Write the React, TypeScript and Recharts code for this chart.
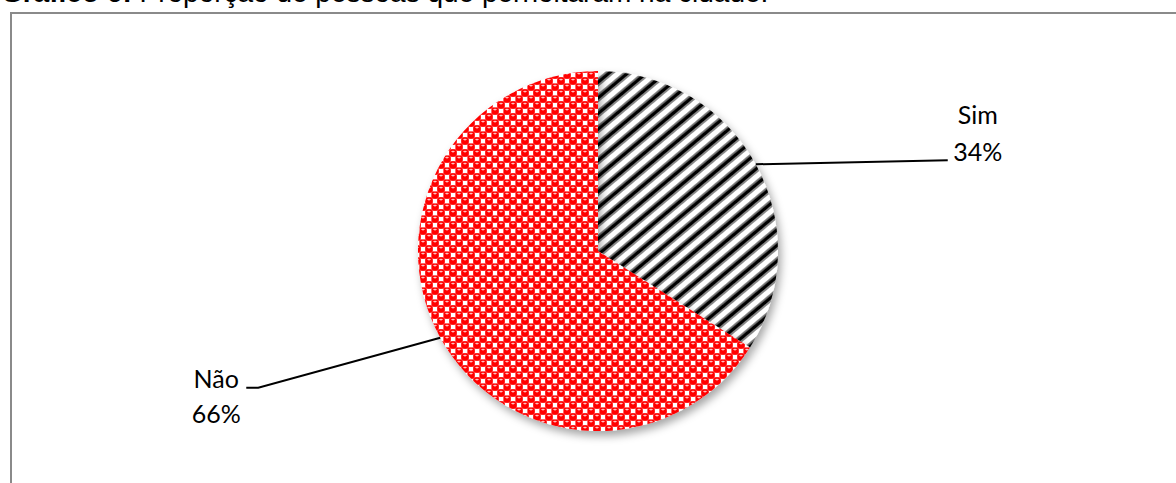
import React from 'react';
import { PieChart, Pie, Cell } from 'recharts';

// Share of people who stayed overnight in the city
const categories = ['Sim', 'Não'];
const percentages = [34, 66];
const patternFills = ['url(#stripes)', 'url(#redDots)'];

const title = 'Gráfico 6:';
const subtitle = ' Proporção de pessoas que pernoitaram na cidade.';

const data = categories.map((name, i) => ({ name, value: percentages[i] }));

const RADIAN = Math.PI / 180;
const labelFont = "Lato, 'Open Sans', sans-serif";

const renderLabel = (props: any) => {
    const { cx, cy, midAngle, outerRadius, name, value } = props;
    const sx = cx + outerRadius * Math.cos(-midAngle * RADIAN);
    const sy = cy + outerRadius * Math.sin(-midAngle * RADIAN);
    const right = Math.cos(-midAngle * RADIAN) >= 0;

    if (right) {
        const ex = sx + 192;
        const ey = sy - 4;
        return (
            <g>
                <path d={`M${sx},${sy}L${ex},${ey}`} stroke="#000" strokeWidth={2} fill="none" />
                <text x={ex + 30} y={ey - 36} textAnchor="middle" fontFamily={labelFont} fontSize={25} fill="#000">{name}</text>
                <text x={ex + 30} y={ey + 1} textAnchor="middle" fontFamily={labelFont} fontSize={25} fill="#000">{`${value}%`}</text>
            </g>
        );
    }
    const ex = sx - 182;
    const ey = sy + 50;
    return (
        <g>
            <path d={`M${sx},${sy}L${ex},${ey}L${ex - 12},${ey}`} stroke="#000" strokeWidth={2} fill="none" />
            <text x={ex - 42} y={ey} textAnchor="middle" fontFamily={labelFont} fontSize={25} fill="#000">{name}</text>
            <text x={ex - 42} y={ey + 35} textAnchor="middle" fontFamily={labelFont} fontSize={25} fill="#000">{`${value}%`}</text>
        </g>
    );
};

export default function App() {
    return (
        <div style={{ position: 'absolute', left: 0, top: 0, width: 1176, height: 483, background: '#fff', overflow: 'hidden' }}>
            <style>{`.recharts-pie-sector { filter: url(#pieShadow); }`}</style>
            <svg width={0} height={0} style={{ position: 'absolute' }}>
                <defs>
                    <pattern id="stripes" width={12} height={12} patternUnits="userSpaceOnUse" patternTransform="rotate(50)">
                        <rect width={12} height={12} fill="#fff" />
                        <rect x={0} y={0} width={1.5} height={12} fill="#888" />
                        <rect x={1.5} y={0} width={4} height={12} fill="#000" />
                        <rect x={5.5} y={0} width={1.5} height={12} fill="#888" />
                    </pattern>
                    <pattern id="redDots" width={12} height={12} patternUnits="userSpaceOnUse">
                        <rect width={12} height={12} fill="#ff4040" />
                        <rect x={6.8} y={0.8} width={4.4} height={4.4} fill="#fff" />
                        <rect x={0.8} y={6.8} width={4.4} height={4.4} fill="#fff" />
                        <circle cx={3} cy={3} r={3.7} fill="#ff0000" />
                        <circle cx={9} cy={9} r={3.7} fill="#ff0000" />
                        <circle cx={9} cy={-3} r={3.7} fill="#ff0000" />
                        <circle cx={-3} cy={9} r={3.7} fill="#ff0000" />
                        <ellipse cx={3} cy={1.6} rx={1.8} ry={0.8} fill="#ffc0c0" />
                        <ellipse cx={9} cy={7.6} rx={1.8} ry={0.8} fill="#ffc0c0" />
                    </pattern>
                    <filter id="pieShadow" x="-20%" y="-20%" width="140%" height="140%">
                        <feDropShadow dx={3} dy={5} stdDeviation={4} floodColor="#000" floodOpacity={0.35} />
                    </filter>
                </defs>
            </svg>
            <div
                style={{
                    position: 'absolute',
                    left: 10,
                    top: 12,
                    width: 1200,
                    height: 520,
                    borderTop: '2px solid #8a8a8a',
                    borderLeft: '2px solid #8a8a8a',
                    boxSizing: 'border-box',
                }}
            />
            <div
                style={{
                    position: 'absolute',
                    left: 1,
                    top: -23,
                    fontFamily: "'Liberation Sans', Arial, sans-serif",
                    fontSize: 28,
                    lineHeight: '32px',
                    whiteSpace: 'nowrap',
                    color: '#000',
                }}
            >
                <b>{title}</b>
                {subtitle}
            </div>
            <div style={{ position: 'absolute', left: 0, top: 0 }}>
                <PieChart width={1176} height={483} margin={{ top: 0, right: 0, bottom: 0, left: 0 }}>
                    <Pie
                        data={data}
                        dataKey="value"
                        nameKey="name"
                        cx={598}
                        cy={251}
                        outerRadius={180}
                        startAngle={90}
                        endAngle={-270}
                        stroke="none"
                        label={renderLabel}
                        labelLine={false}
                        isAnimationActive={false}
                    >
                        {data.map((entry, index) => (
                            <Cell key={`cell-${entry.name}`} fill={patternFills[index]} />
                        ))}
                    </Pie>
                </PieChart>
            </div>
        </div>
    );
}
